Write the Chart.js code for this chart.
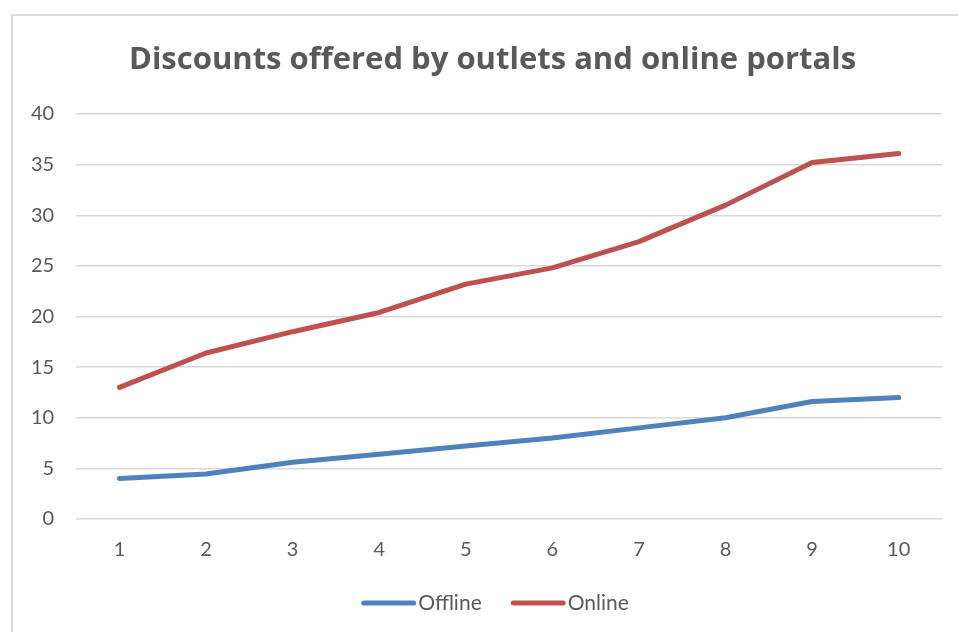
<!DOCTYPE html>
<html><head><meta charset="utf-8">
<script src="https://cdn.jsdelivr.net/npm/chart.js@4/dist/chart.umd.min.js"></script>
<style>html,body{margin:0;padding:0;background:#fff}#wrap{width:958px;height:632px;position:relative}</style>
</head><body><div id="wrap"><canvas id="c" width="958" height="632"></canvas></div>
<script>
const categories = ["1","2","3","4","5","6","7","8","9","10"];
const offline = [4.0, 4.45, 5.6, 6.4, 7.2, 8.0, 9.0, 10.0, 11.6, 12.0];
const online = [13.0, 16.4, 18.5, 20.4, 23.2, 24.8, 27.4, 31.0, 35.2, 36.1];
const seriesNames = ["Offline", "Online"];
const titleText = "Discounts offered by outlets and online portals";

const FONT = "Lato, 'Open Sans', sans-serif";
const TFONT = "'Open Sans', Lato, sans-serif";
const GREY = "#595959";
const COLORS = ['#4F81BD', '#C0504D'];

const framePlugin = {
  id: 'frame',
  beforeDraw(chart) {
    const ctx = chart.ctx;
    ctx.save();
    ctx.strokeStyle = '#d9d9d9';
    ctx.lineWidth = 2;
    ctx.strokeRect(12, 15, 960, 640);
    ctx.restore();
  }
};

const titlePlugin = {
  id: 'chartTitle',
  afterDraw(chart) {
    const ctx = chart.ctx;
    ctx.save();
    ctx.font = "bold 31px " + TFONT;
    ctx.fillStyle = GREY;
    ctx.textAlign = 'center';
    ctx.textBaseline = 'middle';
    ctx.fillText(titleText, 492.5, 60);
    ctx.restore();
  }
};

// legend drawn below the axis, entries taken from the datasets
const legendPlugin = {
  id: 'bottomLegend',
  afterDraw(chart) {
    const ctx = chart.ctx;
    ctx.save();
    ctx.font = "21px " + FONT;
    const lineW = 55, gapText = 2, gapItem = 29;
    const items = chart.data.datasets.map(d => ({ label: d.label, color: d.borderColor, w: ctx.measureText(d.label).width }));
    const total = items.reduce((s, it) => s + lineW + gapText + it.w, 0) + gapItem * (items.length - 1);
    let x = 495 - total / 2;
    const y = 603;
    items.forEach(it => {
      ctx.strokeStyle = it.color;
      ctx.lineWidth = 5;
      ctx.lineCap = 'round';
      ctx.beginPath();
      ctx.moveTo(x + 2.5, y);
      ctx.lineTo(x + lineW - 2.5, y);
      ctx.stroke();
      ctx.fillStyle = GREY;
      ctx.textBaseline = 'middle';
      ctx.fillText(it.label, x + lineW + gapText, y);
      x += lineW + gapText + it.w + gapItem;
    });
    ctx.restore();
  }
};

new Chart(document.getElementById('c'), {
  type: 'line',
  data: {
    labels: categories,
    datasets: [
      { label: seriesNames[0], data: offline, borderColor: COLORS[0], backgroundColor: COLORS[0],
        borderWidth: 5, pointRadius: 0, tension: 0, borderCapStyle: 'round', borderJoinStyle: 'round' },
      { label: seriesNames[1], data: online, borderColor: COLORS[1], backgroundColor: COLORS[1],
        borderWidth: 5, pointRadius: 0, tension: 0, borderCapStyle: 'round', borderJoinStyle: 'round' }
    ]
  },
  options: {
    responsive: false,
    animation: false,
    devicePixelRatio: 1,
    layout: { padding: { left: 9, right: 16, top: 114, bottom: 59 } },
    plugins: {
      title: { display: false },
      legend: { display: false },
      tooltip: { enabled: false }
    },
    scales: {
      x: {
        offset: true,
        grid: { display: false },
        border: { display: false },
        ticks: { color: GREY, font: { family: FONT, size: 20 }, padding: 11 }
      },
      y: {
        min: 0, max: 40,
        ticks: { stepSize: 5, color: GREY, font: { family: FONT, size: 20 }, padding: 22 },
        grid: { color: '#d9d9d9', lineWidth: 1.5, drawTicks: false },
        border: { display: false }
      }
    }
  },
  plugins: [framePlugin, titlePlugin, legendPlugin]
});
</script></body></html>
